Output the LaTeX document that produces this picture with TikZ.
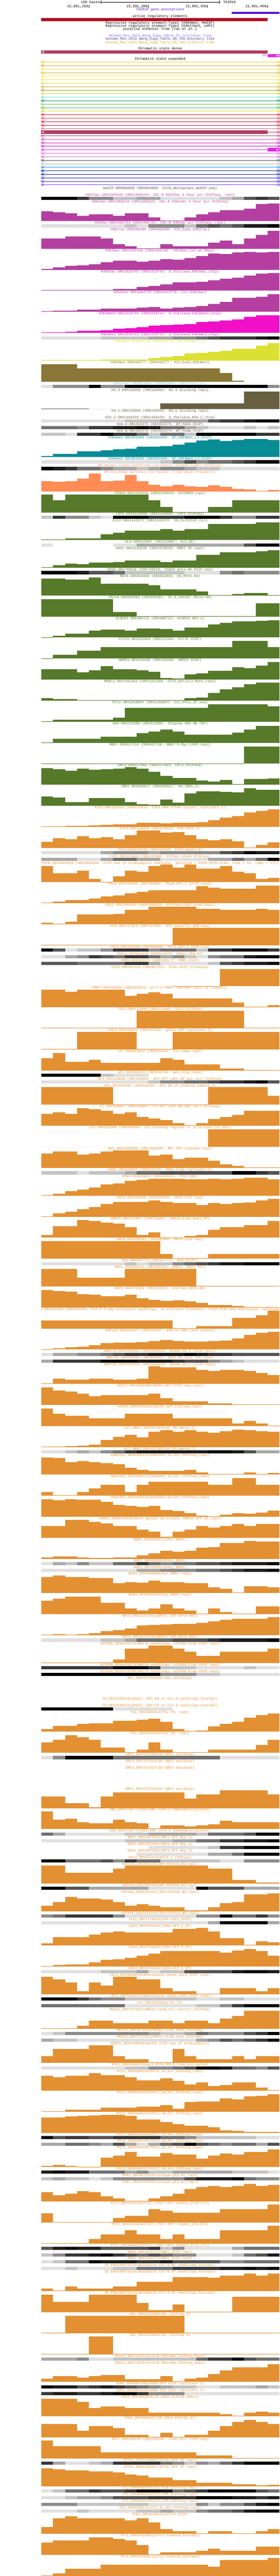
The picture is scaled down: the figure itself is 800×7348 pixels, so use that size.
\documentclass[tikz,border=0pt]{standalone}
\usepackage{fontspec}
\newfontfamily\ucscfont{Liberation Mono}

\definecolor{acetyl}{HTML}{B43FA0}
\definecolor{kmagenta}{HTML}{F010C8}
\definecolor{kfourtwo}{HTML}{DCE032}
\definecolor{kfourone}{HTML}{8A7636}
\definecolor{kpale}{HTML}{80C8C8}
\definecolor{variant}{HTML}{686040}
\definecolor{knine}{HTML}{088C96}
\definecolor{dnase}{HTML}{FF8C55}
\definecolor{chromprot}{HTML}{567A2A}
\definecolor{tfactor}{HTML}{E39032}
\definecolor{medip}{HTML}{3C5A3C}
\definecolor{tairblue}{HTML}{5810DC}
\definecolor{actred}{HTML}{B40020}
\definecolor{insul}{HTML}{7B68EE}
\definecolor{tadbound}{HTML}{483D8B}
\definecolor{tadint}{HTML}{DAA520}
\definecolor{statedense}{HTML}{B43C5A}
\definecolor{statemag}{HTML}{E628E6}
\definecolor{shade1}{HTML}{E0E0E0}
\definecolor{shade2}{HTML}{C4C4C4}
\definecolor{shade3}{HTML}{A8A8A8}
\definecolor{shade4}{HTML}{8C8C8C}
\definecolor{shade5}{HTML}{707070}
\definecolor{shade6}{HTML}{545454}
\definecolor{shade7}{HTML}{383838}
\definecolor{shade8}{HTML}{1C1C1C}
\definecolor{shade9}{HTML}{000000}

\tikzset{
  trklbl/.style={font=\ucscfont\fontsize{10}{10}\selectfont, inner sep=0pt, anchor=base},
  tick/.style={line width=0.8pt},
}

% running track position
\newcounter{trk}
\def\trky{556}
\newcommand\trknext[1]{\pgfmathsetmacro\trktmp{\trky+#1}\xdef\trky{\trktmp}\stepcounter{trk}}
\newcommand\trklabel[2]{\node[trklbl, text=#1] (trk\thetrk) at (458,{\trky+3.5}) {#2};}
\newcommand\bartrk[3]{\trklabel{#1}{#2}%
  \foreach \h [count=\i from 0] in {#3}
    {\fill[#1] ({118+34.1*\i},{\trky+55.5}) rectangle ++(34.1,-\h);}%
  \trknext{60}}
\newcommand\graytrk[3]{\trklabel{#1}{#2}%
  \foreach \g [count=\i from 0] in {#3}
    {\ifnum\g>0\relax \fill[shade\g] ({118+34.1*\i},{\trky+5}) rectangle ++(34.1,9);\fi}%
  \trknext{19}}
\newcommand\nultrk[3]{\trklabel{#1}{#2}\trknext{#3}}

\begin{document}
\catcode`\_=12
\begin{tikzpicture}[x=1pt, y=-1pt]
\useasboundingbox (0,0) rectangle (800,7348);
\fill[white] (0,0) rectangle (800,7348);

% ruler and positions
\node[trklbl, anchor=base east] (scalelbl) at (286,9.5) {100 bases};
\coordinate (rulerL) at (288,6);
\coordinate (rulerR) at (628,6);
\draw[tick] (rulerL) -- (rulerR);
\draw[tick] (288,1) -- (288,11) (628,1) -- (628,11);
\node[trklbl, anchor=base west] (asm) at (638,9.5) {TAIR10};
\node[trklbl, anchor=base east] (pos1) at (252,21.5) {15,891,250};
\node[trklbl, anchor=base east] (pos2) at (422,21.5) {15,891,300};
\node[trklbl, anchor=base east] (pos3) at (591,21.5) {15,891,350};
\node[trklbl, anchor=base east] (pos4) at (762,21.5) {15,891,400};
\draw[tick] (254,14) -- (254,22) (424,14) -- (424,22) (593,14) -- (593,22) (764,14) -- (764,22);

\node[trklbl, text=tairblue] (genes) at (458,30.5) {TAIR10 gene annotations};
\fill[tairblue] (663,34) rectangle (800,39);
\node[trklbl] (regel) at (458,49.5) {active regulatory elements};
\fill[actred] (118,51) rectangle (765,60);
\node[trklbl] (rep1) at (458,68.5) {Repressive regulatory element-Type1 (H3K9me2, MeDIP)};
\node[trklbl] (rep2) at (458,77.5) {Repressive regulatory element-Type2 (H3K27me3, LHP1)};
\node[trklbl] (enh) at (458,86.5) {putative enhancer from (Yan et al.)};
\node[trklbl, text=insul] (tabS7) at (458,105.5) {Genome_Res_2015_Wang_Supp_Table_S7_insulator-like};
\node[trklbl, text=tadbound] (tabS8) at (458,114.5) {Genome_Res_2015_Wang_Supp_Table_S8_TAD_boundary_like};
\node[trklbl, text=tadint] (tabS9) at (458,123.5) {Genome_Res_2015_Wang_Supp_Table_S9_TAD_interior_like};

% chromatin state dense
\node[trklbl] (csdense) at (458,142.5) {Chromatin state dense};
\fill[statedense] (118,144) rectangle (765,153);
\fill[white] (120,148.5) -- (123,146) -- (123,151) -- cycle (123,148.5) -- (126,146) -- (126,151) -- cycle;
\fill[statemag] (765,154) rectangle (800,163);
\fill[white] (797,158.5) -- (794,156) -- (794,161) -- cycle (794,158.5) -- (791,156) -- (791,161) -- cycle;
\node[trklbl, anchor=base east, text=statemag!80!black] (state26) at (763,161.5) {26};

% chromatin state expanded
\node[trklbl] (csexp) at (458,171.5) {Chromatin state expanded};
\foreach \c [count=\k from 0] in {E6D72A,E8A02A,F0E040,D2B43C,F0F03C,F0E650,E0DC28,D0B030,B49614,C8DC32,
  64E6C8,14966E,78C850,46B450,DCDC1E,E61E32,E6464B,DC1428,C81432,E6648C,
  B43C5A,B4468C,D246B4,D214B4,C814D2,E628E6,E664F0,C864D2,505050,B4B4B4,
  1E96E6,102A8C,1020B4,2032D2,4628E6,8246F0}{
  \edef\setrow{\noexpand\definecolor{rowcol}{HTML}{\c}}\setrow
  \pgfmathsetmacro\ry{177+10*\k}
  \draw[rowcol, line width=0.8pt] (118,\ry) -- (800,\ry);
  \draw[rowcol, line width=0.5pt]
    (118,{\ry-4}) -- (118,{\ry+4}) (122.5,{\ry-4}) -- (118,\ry) -- (122.5,{\ry+4})
    (122.5,{\ry-4}) -- (122.5,{\ry+4}) (127,{\ry-4}) -- (122.5,\ry) -- (127,{\ry+4})
    (800,{\ry-4}) -- (800,{\ry+4}) (795.5,{\ry-4}) -- (800,\ry) -- (795.5,{\ry+4})
    (795.5,{\ry-4}) -- (795.5,{\ry+4}) (791,{\ry-4}) -- (795.5,\ry) -- (791,{\ry+4});
}
\fill[statedense] (118,372.5) rectangle (765,381.5);
\fill[white] (120,377) -- (123,374.5) -- (123,379.5) -- cycle (123,377) -- (126,374.5) -- (126,379.5) -- cycle;
\fill[statemag] (765,422.5) rectangle (800,431.5);
\fill[white] (797,427) -- (794,424.5) -- (794,429.5) -- cycle (794,427) -- (791,424.5) -- (791,429.5) -- cycle;

\node[trklbl, text=medip] (medip) at (458,540.5) {meDIP-SRX004968 (SRX004968: Col0_wholeplant_meDIP-seq)};

\begin{scope}
\clip (118,545) rectangle (800,7348);
\graytrk{acetyl}{H3K23ac-SRX1469144 (SRX1469144: COL-0 H3K23ac 4 hour air ChIPseq, rep2)}{9,9,9,7,4,4,2,2,3,3,1,1,1,1,1,2,3,6,7,6}
\bartrk{acetyl}{H3K14ac-SRX1469119 (SRX1469119: COL-0 H3K14ac 4 hour air ChIPseq)}{28.7,24.7,21.7,14.7,18.7,18.7,14.7,21.7,21.7,10.7,1.7,1.7,10.7,18.7,24.7,30.7,30.7,34.7,48.7,50.7}
\graytrk{acetyl}{H3K9ac-SRX1466723 (SRX1466723: COL-0 H3K9ac air ChIPseq, rep1)}{1,1,1,1,1,1,1,2,1,4,4,4,2,5,6,5,6,8,8,9}
\bartrk{acetyl}{H3K27ac-SRX648280 (SRX648280: Ath_buds_H3K27ac)}{28.7,28.7,34.7,34.7,34.7,28.7,12.7,6.7,1.7,1.7,12.7,6.7,6.7,6.7,17.7,23.7,12.7,28.7,39.7,50.7}
\bartrk{acetyl}{H3K36ac-SRX1426149 (SRX1426149: H3K36ac_Col_wt_Rep1)}{1.7,6.7,10.7,12.7,15.7,21.7,25.7,25.7,22.7,25.7,29.7,28.7,32.7,39.7,46.7,45.7,48.7,50.7,49.7,50.7}
\bartrk{acetyl}{H3K56ac-SRX1518745 (SRX1518745: A_thaliana_H3K56ac_chip)}{2.7,1.7,2.7,2.7,2.7,2.7,4.7,5.7,10.7,13.7,17.7,23.7,24.7,25.7,29.7,34.7,37.7,43.7,48.7,50.7}
\bartrk{acetyl}{H4K16ac-SRX1044778 (SRX1044778: Col-H4K16ac)}{1.7,3.7,3.7,6.7,6.7,8.7,8.7,8.7,11.7,13.7,8.7,11.7,13.7,16.7,22.7,27.7,40.7,40.7,42.7,50.7}
\bartrk{kmagenta}{H3K36me3-SRX1518744 (SRX1518744: A_thaliana_H3K36me3_chip)}{2,2,3,6.7,6.7,7.7,11.7,13.7,16.7,20.7,21.7,23.7,25.7,30.7,32.7,35.7,38.7,45.7,50.7,50.7}
\graytrk{acetyl}{H3K4me3-SRX1518741 (SRX1518741: A_thaliana_H3K4me3_chip)}{1,1,1,1,1,2,2,2,2,3,3,4,4,5,6,7,7,7,8,9}
\bartrk{kfourtwo}{H3K4me2-DRX066756 (DRX066756: WT_H3K4me2_1)}{1,1,1,1,1,2.5,2.5,2.5,2.5,6.6,10,12.4,20.7,22.4,25,28,33,34,42,50}
\bartrk{kfourone}{H3K4me1-SRX648277 (SRX648277: Ath_buds_H3K4me1)}{50,50,50,38,38,38,38,38,38,38,38,38,38,38,38,25,2,0,0,0}
\graytrk{kpale}{H3K27me3-SRX853860 (SRX853860: H3K27me3_Col)}{1,4,4,4,9,4,4,9,9,9,9,9,9,9,9,9,9,9,9,4}
\bartrk{variant}{H3.3-SRX130301 (SRX130301: H3.3 dividing rep1)}{1.5,1.5,1.5,1.5,0,0,0,0,0,0,17.5,17.5,17.5,17.5,17.5,17.5,17.5,50.5,50.5,50.5}
\nultrk{variant}{H3.1-SRX130303 (SRX130303: H3.1 dividing rep1)}{19}
\graytrk{variant}{H2A.Z-SRX1436239 (SRX1436239: A_thaliana_H2A.Z_chip)}{1,1,1,1,1,1,1,2,2,2,3,3,3,3,6,7,7,8,9,9}
\graytrk{variant}{H2A.X-SRX352375 (SRX352375: WT_H2AX_ChIP)}{5,5,5,4,7,7,8,8,9,8,5,5,3,2,1,1,1,2,1,2}
\graytrk{variant}{H2A.W-SRX352374 (SRX352374: WT_H2AW_ChIP)}{2,2,1,7,7,9,7,7,5,2,5,5,2,9,9,9,9,9,7,7}
\bartrk{knine}{H3K9me1-SRX361945 (SRX361945: WT_H3K9me1_LJ_ChIP)}{2.5,8.3,9,16,16,19,22,24,30,30,31.5,35,41.5,46.5,50.6,46,48,51,51,48}
\graytrk{knine}{H3K9me2-SRX361946 (SRX361946: WT_H3K9me2_LJ_ChIP)}{1,1,1,1,1,1,1,1,1,1,2,4,6,4,5,5,6,7,9,9}
\graytrk{dnase}{DH-normal_light_condition (in house: normal light conditon)}{9,8,7,5,5,4,3,3,2,3,4,4,3,2,2,1,1,1,1,1}
\bartrk{dnase}{DH-extended_darkness (in house: 3-day dark treatment)}{29,27.4,29,35.7,50.6,29,30.7,46.4,29,18,14,18,14,12.4,16.6,13,6.6,5.8,1.7,3.3}
\bartrk{chromprot}{CENH3-SRX2250913 (SRX2250913: AtCENH3_rep1)}{50,34,50,50,50,50,50,50,50,34,15.8,1,1,1,15.8,15.8,34,34,34,34}
\graytrk{chromprot}{LHP1-SRX1519404 (SRX1519404: LHP1 ChIPseq)}{2,7,4,4,2,1,9,9,9,7,7,7,9,9,9,7,4,4,7,7}
\bartrk{chromprot}{Pol2-SRX1142672 (SRX1142672: 30_Pol2ChIP_Col)}{1.7,1.7,5,5,5,16.6,21,26.5,26.5,26.5,30.7,26.5,31.5,31.5,46.4,46.4,46.4,46.4,50.6,50.6}
\graytrk{chromprot}{AL5-SRX515067 (SRX515067: AL5_OE)}{1,0,0,0,0,0,1,1,3,3,3,3,3,3,3,3,3,6,9,9}
\bartrk{chromprot}{HDP2-SRX2310526 (SRX2310526: HDP2 IP rep2)}{1.7,7.5,12.4,10,14,14,16.6,20,20,20,16.6,20,20,37,37,44,44,44,47,50.6}
\graytrk{chromprot}{SDG8-SRX749018 (SRX749018: hSDG8 anti-HA ChIP-seq)}{9,9,9,8,6,6,5,2,2,2,2,2,1,1,1,4,5,4,4,4}
\bartrk{chromprot}{REF6-SRX853858 (SRX853858: HA_REF6-HA)}{48,48,45,45,50.5,33.7,33.7,33.7,33.7,29,17,17,17,10.8,1.7,1.7,4,6.6,6.6,1.7}
\bartrk{chromprot}{JMJ14-SRX669383 (SRX669383: 2C_3_140207 JMJ14-HA)}{50,50,50,50,50,50,12.5,12.5,1.5,1.5,1.5,1.5,1.5,1.5,1.5,1.5,1.5,1.5,38,38}
\bartrk{chromprot}{AtDEK3-SRX488722 (SRX488722: AtDEK3 OE3-1)}{1.2,5.7,10.7,10.7,19,22.4,22.4,19.5,25,25,24,20,28,28,37,41.5,45.6,46.4,47,49.8}
\bartrk{chromprot}{PolIV-SRX252954 (SRX252954: PolIV ChIP)}{0.8,10.8,10.8,22.4,22.4,33,33,33,33,33,33,33,33,33,33,33,50,50,50,33}
\bartrk{chromprot}{NRPE1-SRX159106 (SRX159106: NRPE1 ChIP)}{29,29,29,21,26,38,29,29,26.7,22.5,5,3.3,15,17.4,25.7,25.7,35,32.3,40,50.6}
\bartrk{chromprot}{MORC1-SRX1161363 (SRX1161358: ChIP_morc1/2_Mock_rep3)}{7.5,4,4,2,2,2,2,2,2,2,2,2,7,8,21.6,31.5,38,46.4,50.6,50.6}
\bartrk{chromprot}{HYL1-SRX1268024 (SRX1268024: Col_HYL1_IP_seq)}{1.5,5.3,5.3,5.3,5.3,5.3,11.5,39.5,39.5,39.5,39.5,39.5,39.5,39.5,49.8,49.8,49.8,49.8,49.8,44}
\bartrk{chromprot}{AN3-SRX212080 (SRX212080: Chipseq AN3 HB TAP)}{1.2,11,11,11,11,17.4,17.4,17.4,28,31,38,31,23,23,23,23,29,38,48,48}
\bartrk{chromprot}{MBD7-SRX621716 (SRX621716: MBD7-5-Myc-ChIP-rep1)}{0.8,0.8,0.8,0.8,0.8,0.8,0.8,0.8,0.8,0.8,0.8,0.8,0.8,0.8,0.8,0.8,0.8,49,49,49}
\bartrk{chromprot}{CMT3-SRX157663 (SRX157663: CMT3_ChIPseq)}{47,45,40,46,43,44,46,50,46,37,25,19,19,11.6,9,14,1.7,15.8,15.8,17.4}
\bartrk{chromprot}{IBM1-DRX066817 (DRX066817: HA-IBM1_2)}{27,23,10.5,10.5,22.5,22.5,22.5,10.5,5,3,18,8.4,35,41,41,40,38,50,46,46}
\bartrk{tfactor}{E2Fa-SRX333416 (SRX333416: E2Fa-HBH TChAP output, replicate 2)}{1.3,1.3,3.2,3.2,4.5,6.3,7.7,7.7,11.6,11.6,9.7,12,12,13,19,25.8,31,40.6,45.7,49.6}
\bartrk{tfactor}{PIF3-SRX159028 (SRX159028: P3M-ChIP-3)}{17.4,27,24.5,33.5,27,30,24.5,36,50,50,43.8,45,36,24.5,21,24.5,18,1.3,9,15.5}
\graytrk{tfactor}{PIF4-SRX214150 (SRX214150: PIF4-peaks-3)}{1,1,1,1,1,3,4,4,4,3,4,4,4,4,4,6,7,9,8,8}
\graytrk{tfactor}{PIF5-SRX115869 (SRX115869: PIF5ox shade ChIPseq)}{3,3,3,1,1,3,5,5,3,3,1,1,1,1,3,3,5,3,5,9}
\bartrk{tfactor}{PHYB-SRX2083648 (SRX2083648: ChIP-Seq of Arabidopsis thaliana: genotype = PHYB:PHYB-FLAG, time = 10, temp = 17C)}{46.4,25,25,32.9,9,1.3,17.4,32.9,30,46.4,50,41,50,38.6,38.6,46.4,30,25,9,12.9}
\bartrk{tfactor}{PhyA-SRX320094 (SRX320094: PhyA-GFP_1 [ChIP-seq])}{1.3,5,9,9,14,18.7,23,27.7,32,37.4,37.4,37.4,37.4,49,45,42,42,42,50,50}
\bartrk{tfactor}{CRY2-SRX1005826 (SRX1005826: ChIPSeq-CRY2_FLAG_Rep1)}{4.5,1.3,7.7,27.7,27.7,27.7,30,40.6,40.6,49.6,49.6,49.6,49.6,44.4,44.4,40.6,40.6,40.6,44.4,40.6}
\bartrk{tfactor}{HY5-SRX727353 (SRX727353: HY5 specific gDB-seq)}{1,1,1,1,1,1,1,1,1,1,1,50,50,50,50,50,50,50,50,50}
\graytrk{tfactor}{FHY1-SRX555090 (SRX555090: FHY1-GFP_2_ChIP-seq)}{9,6,1,2,2,4,7,7,7,4,5,5,5,2,7,7,9,9,9,7}
\graytrk{tfactor}{FRS12-ERX611626 (ERX611626: FRS12_HBH_N2)}{1,1,3,4,7,6,5,7,7,5,3,4,2,1,4,5,5,8,9,9}
\graytrk{tfactor}{PRR5-SRX128177 (SRX128177: PRR5-ChIP)}{6,6,6,5,5,5,5,7,7,3,1,1,1,1,2,6,7,8,8,9}
\bartrk{tfactor}{CCA1-SRX997425 (SRX997425: CCA1-ChIP_Illumina)}{0,0,0,0,0,0,0,0,0,0,0,1.3,1.3,1.3,1.3,49,49,49,49,49}
\bartrk{tfactor}{PRR7-SRX328353 (SRX328353: prr7-3 PRR7::HA-PRR7 \#151 IP (ExpII))}{50,50,44.4,50,50,50,50,32.8,38,43.8,38,25.8,25.8,25.8,25.8,25.8,13.5,1.3,1.3,7}
\bartrk{tfactor}{TOC1-SRX121040 (SRX121040: TOC1_ChIPSeq)}{1.3,1.3,1.3,1.3,1.3,1.3,1.3,1.3,49.6,49.6,49.6,49.6,49.6,49.6,49.6,49.6,49.6,1.3,1.3,1.3}
\bartrk{tfactor}{SOC1-SRX262132 (SRX262132: gSOC1-GFP replicate 3)}{1.3,1.3,1.3,49.6,49.6,49.6,49.6,49.6,1.3,1.3,1.3,49.6,49.6,49.6,49.6,49.6,49.6,49.6,49.6,49.6}
\bartrk{tfactor}{LFY-SRX029442 (SRX029442: lfy-samp-rep2)}{34.8,49.6,24.5,24.5,31,21.9,21.9,21.9,21.9,21.9,34.8,31,18,18,18,5.8,5.8,1.3,1.3,1.3}
\graytrk{tfactor}{AP2-SRX019319 (SRX019319: ap2_chip_rep2)}{9,9,9,9,9,2,1,1,1,0,0,0,0,0,0,0,0,0,0,0}
\graytrk{tfactor}{AP3-SRX150808 (SRX150808: AP3-GFP (AP1-GR ap1 cal) ChIPseq)}{1,1,1,1,1,1,1,1,1,2,4,4,5,5,6,7,7,8,9,6}
\bartrk{tfactor}{AP1-SRX018392 (SRX018392: AP1-GR_2h_induced_sample_1)}{50,50,50,50,50,50,1,1,1,1,1,1,1,1,50,50,50,50,50,26.4}
\bartrk{tfactor}{PI-SRX150807 (SRX150807: PI-GFP (AP1-GR ap1 cal) ChIPseq)}{34.8,38,34.8,50,47.7,43.8,34.8,38,25,20.6,16,7.7,1.3,7.7,19.3,25.8,32,43.8,43.8,43.8}
\bartrk{tfactor}{FLC-SRX039006 (SRX039006: FLC binding regions in wild type Col FRI)}{0,0,0,0,0,0,0,0,0,0,0,0,0,0,49.6,49.6,49.6,49.6,49.6,49.6}
\bartrk{tfactor}{RPL-SRX1603698 (SRX1603698: RPL-GFP_chipseq_rep1)}{41.6,46.3,46.3,38.4,41.6,46.3,50,50,50,35.3,38.4,25.6,30,30,21,9.6,5.3,2,2,2}
\graytrk{tfactor}{KAN1-SRX310193 (SRX310193: KAN1-FLAG replicate 1)}{2,2,2,1,2,2,2,3,5,5,6,6,6,6,6,6,9,9,7,6}
\bartrk{tfactor}{PPD2-ERX620625 (ERX620625: PPD2_HBH)}{1.3,5,13.4,16.6,23.6,32.5,35,42,44.6,47.8,47.8,47.8,46.6,47,48.5,46.6,48.5,50.4,50.4,47}
\bartrk{tfactor}{SPCH-SRX539638 (SRX539638: SPCH ChIP-Seq)}{1.3,9.6,14,21,28,36.4,42,42,42,46.6,42,39.5,38.3,33,38.3,36.4,38.3,40,46.6,50.4}
\bartrk{tfactor}{ARR10-SRX732967 (SRX732967: ARR10_Exp1_Rep1_IP)}{8.3,32.5,32.5,50.4,47.2,43.4,40.2,29.3,8.3,15.3,1.3,1.3,4.5,8.3,22.3,29.3,29.3,36.4,36.4,47.2}
\bartrk{tfactor}{ARF6-SRX368984 (SRX368984: ARF6 ChIP-Seq)}{50.4,50.4,50.4,50.4,50.4,50.4,50.4,50.4,50.4,50.4,13.4,1.3,1.3,1.3,13.4,13.4,13.4,13.4,13.4,13.4}
\graytrk{tfactor}{RGA-SRX647775 (SRX647775: RGA_ChIP2)}{1,1,1,1,1,1,1,2,1,2,2,4,5,6,7,8,8,9,9,9}
\bartrk{tfactor}{HBI1-SRX388754 (SRX388754: pHBI1::HBI1-YFP)}{49.7,49.7,49.7,25.5,25.5,25.5,25.5,49.7,49.7,49.7,49.7,49.7,49.7,1.3,1.3,1.3,1.3,1.3,1.3,1.3}
\bartrk{tfactor}{ABI5-SRX670505 (SRX670505: ChIPSeq-ABI5_Ab)}{49.7,46.6,44.6,37.6,36.4,31.9,32.5,36.4,25.5,22.3,18.5,20.4,17.9,12.8,6.4,6.4,3.8,1.3,1.3,1.3}
\bartrk{tfactor}{EIN3-SRX215430 (SRX215430: Col-0 3-day etiolated seedlings, no ethylene treatment, EIN3 ChIP-Seq biological replicate 1)}{22.3,22.3,22.3,22.3,22.3,22.3,22.3,22.3,22.3,22.3,22.3,1.3,1.3,6.4,6.4,6.4,30,30,37,50.4}
\bartrk{tfactor}{ERF115-SRX320167 (SRX320167: ERF115-HBH ChIP output)}{1.3,3.2,6.4,8.3,12,19,20.4,20.4,21,24.9,27.4,24.2,22.3,22.3,24.2,26,31.9,42,47.8,50.4}
\graytrk{tfactor}{WRKY18-SRX2039032 (SRX2039032: W18HA_0h_2 (ChIP-Seq))}{1,3,3,4,4,5,6,7,7,8,8,8,9,8,7,7,6,6,6,6}
\graytrk{tfactor}{WRKY33-SRX890383 (SRX890383: WK33-HA mock 14h rep1)}{3,7,7,7,7,9,9,9,8,8,8,7,6,6,4,3,2,1,1,1}
\bartrk{tfactor}{WRKY40-SRX2039026 (SRX2039026: W40HA_0h_1 (ChIP-Seq))}{1.3,15.3,11.5,11.5,15.3,15.3,11.5,11.5,15.3,50.4,46.6,46.6,46.6,40,36.4,40,40,36.4,31.3,25.5}
\bartrk{tfactor}{ADCP1-SRX4503490(ADCP1-GFP ChIP-seq_rep1)}{49.7,40.8,37.6,31.9,25.5,27.4,27.4,27.4,27.4,31.9,18.5,9.6,9.6,9.6,3.8,3.8,1.3,1.3,1.3,1.3}
\bartrk{tfactor}{ADCP1_SRX4503492(ADCP1-GFP_ChIPseq_rep2)}{49.7,35.7,28.7,28.7,21.7,21.7,21.7,35.7,35.7,35.7,35.7,21.7,21.7,21.7,21.7,21.7,7.7,14.7,7.7,1.3}
\bartrk{tfactor}{all_WRKY_SRX3557820(wt_0h_aWrky_1)}{0.8,0.8,2.6,4.5,6.4,20.4,29.3,34.4,28,44,47.8,44,47.8,44,40.8,45.3,49.7,47.8,45.3,43.4}
\graytrk{tfactor}{all_WRKY_SRX3557828(wt_0h_aWrky_2)}{1,1,2,3,2,4,5,7,8,8,8,8,8,8,9,9,8,6,3,3}
\bartrk{tfactor}{ANAC055_SRX6460113(ANAC055_JA_2hr_ChIPseq_rep1)}{49.7,47.2,36.4,38.9,36.4,33.2,30.6,19.8,13.4,10.8,10.8,10.8,13.4,7,1.3,2.6,2.6,6.4,2.6,4.5}
\bartrk{tfactor}{ANAC055_SRX6460114(ANAC055_JA_2hr_ChIPseq_rep2)}{10.8,1.3,1.3,10.8,20.4,30.6,30.6,10.8,30.6,40.2,40.2,40.2,40.2,40.2,30.6,30.6,49.7,49.7,30.6,30.6}
\bartrk{tfactor}{ANAC055_SRX6460115(ANAC055_JA_2hr_ChIPseq_rep3)}{50.6,46.6,50.6,48.6,48.6,43.4,33.5,30.9,27.6,31.5,19.7,16.4,10.5,3.3,1.3,6.6,10.5,9.2,12.5,18.4}
\bartrk{tfactor}{ARR12_SRX6490939(Root apical meristems, ARR12-GFP_IP_rep2)}{33.8,33.8,50.9,50.9,45.6,40.4,33.8,33.8,22.7,17.4,2.3,17.4,22.7,33.8,29.2,33.8,39.7,33.8,39.7,39.7}
\bartrk{tfactor}{BDR1_SRX3928572(Myc_BDR1)}{4.4,6.4,6.4,4.4,2.4,1.8,4.4,4.4,10.3,16.2,22.8,20.8,23.4,31.3,34,45.8,45.8,51,49.7,49.7}
\graytrk{tfactor}{BDR1_SRX5900593(Myc_BDR1)}{1,3,2,4,2,2,5,5,7,5,4,5,5,6,6,7,8,8,8,9}
\graytrk{tfactor}{BDR2_SRX3928574(Myc_BDR2)}{1,1,1,1,1,1,1,1,3,3,4,4,4,5,5,6,7,8,8,9}
\bartrk{tfactor}{BDR3_SRX5900594(Myc_BDR3 rep1)}{46.6,50.6,46.6,46.6,42.7,42.7,28.9,31.5,29.6,35.5,31.5,31.5,28.9,28.9,16.4,12.5,2,19.7,19.7,16.4}
\bartrk{tfactor}{BDR3_SRX5900595(Myc_BDR3 rep2)}{38.4,45,50.9,50.9,50.9,32.5,32.5,16,10.8,16,28.5,16,10.8,1.6,16,6.8,1.6,1.6,22.6,22.6}
\bartrk{tfactor}{BPC6_ERX2223705(pBPC6::GFP:BPC6-BR1)}{1.8,3.7,1.8,3.7,5.7,12.3,14.9,18.8,27.4,30,31.3,32.6,32.6,35.2,39.8,43.7,47,47,47,51}
\graytrk{tfactor}{BPC6_ERX2223706(pBPC6::GFP:BPC6-BR1)}{1,1,1,1,1,2,2,3,5,5,5,6,6,6,7,8,8,8,8,9}
\bartrk{tfactor}{bZIP68_SRX6410178(Whole seedlings, bZIP68-FLAG.CHIP.rep1)}{1.3,1.3,1.3,1.3,1.3,1.3,10.5,40.7,40.7,50,50,40.7,31.5,20.4,20.4,31.5,31.5,31.5,31.5,40.7}
\graytrk{tfactor}{bZIP68_SRX6410179(Whole seedlings, bZIP68-FLAG.CHIP.rep2)}{7,7,7,7,7,7,9,9,9,7,2,2,2,1,1,1,1,2,1,1}
\graytrk{tfactor}{bZIP68_SRX6410180(Whole seedlings, bZIP68-FLAG.CHIP.rep3)}{9,9,9,9,9,9,9,9,9,9,4,4,4,2,2,1,1,1,1,1}
\nultrk{tfactor}{EEL_SRX7873339(WT:EEL antibody)}{60}
\nultrk{tfactor}{FD_ERX2338310(pSUC2::GFP:FD in Col-0 seedlings biorep1)}{19}
\graytrk{tfactor}{FD_ERX2338311(pSUC2::GFP:FD in Col-0 seedlings biorep2)}{9,9,9,9,9,9,1,1,1,1,1,0,0,0,0,0,0,0,0,0}
\bartrk{tfactor}{FUL_SRX3505414(FUL IM, rep1)}{7.2,17,17,21.7,24.3,24.3,30.9,30.9,34.2,37.4,27.6,7.2,2,3.9,14.5,21.7,27.6,40,47.3,51}
\bartrk{tfactor}{FUL_SRX3505415(FUL IM, rep2)}{29.2,36.4,50.2,43.6,36.4,15.3,15.3,1.5,8.1,29.2,8.1,1.5,1.5,1.5,8.1,8.1,8.1,8.1,22.6,36.4}
\graytrk{tfactor}{GBF1_SRX7873305(WT:GBF1 antibody)}{1,4,9,9,9,9,5,5,5,5,5,5,5,5,5,1,1,1,1,1}
\nultrk{tfactor}{GBF2_SRX7873316(WT:GBF2 antibody)}{19}
\nultrk{tfactor}{GBF3_SRX7873327(WT:GBF3 antibody)}{60}
\bartrk{tfactor}{GBF4_SRX7873338(WT:GBF4 antibody)}{32.4,32.4,13.3,13.3,1.5,32.4,44.9,44.9,44.9,44.9,44.9,44.9,27.1,39,39,50.8,50.8,50.8,50.8,39}
\bartrk{tfactor}{GNC_SRX3739773(35S:GNC line 2 immunoprecipitate)}{50.3,26.7,30,19.4,16.8,16.8,26.7,19.4,16.8,1.7,10.2,10.2,7.6,10.2,13.5,23.4,19.4,19.4,19.4,19.4}
\graytrk{tfactor}{GNC_SRX3739775(35S:GNC line 1 immunoprecipitate)}{5,3,1,1,1,1,1,2,2,3,3,3,3,2,5,5,5,6,9,9}
\graytrk{tfactor}{GRF1_SRX5507863(GRF1-GFP Rep 3)}{1,1,1,1,1,1,1,2,2,2,2,3,3,5,5,7,7,8,8,9}
\graytrk{tfactor}{GRF3_SRX5507865(GRF3-GFP Rep 2)}{0,0,0,0,0,0,0,0,0,1,1,1,1,1,2,7,7,9,9,9}
\graytrk{tfactor}{GRF3_SRX5507866(GRF3-GFP Rep 3)}{0,0,0,0,0,0,0,0,1,1,1,1,1,1,3,3,5,9,9,9}
\graytrk{tfactor}{HAT3_SRX875470(HAT3-1 ChIPseq)}{9,9,5,5,5,6,4,7,5,5,2,2,2,2,2,1,1,4,4,4}
\bartrk{tfactor}{HSFA1b_SRX2024335(NP:HSFA1b_NS_rep1)}{50.8,50.8,30.5,30.5,30.5,30.5,41.6,50.8,50.8,50.8,50.8,50.8,50.8,50.8,41.6,41.6,10.7,10.7,2.2,2.2}
\graytrk{tfactor}{HSFA1b_SRX2024336(NP:HSFA1b_NS_rep2)}{9,9,6,6,3,3,3,3,3,1,1,1,1,9,6,6,6,3,3,3}
\bartrk{tfactor}{HSFA1b_SRX2024343(35S:HSFA1b_NS_rep1)}{15.6,25.4,40.5,36.6,36.6,33.3,25.4,15.6,19.5,15.6,11.6,11.6,1.8,1.8,11.6,22.8,25.4,47.8,47.8,51}
\graytrk{tfactor}{HSFA1b_SRX2024344(35S:HSFA1b_NS_rep2)}{4,5,7,7,7,7,4,1,1,1,1,1,1,4,4,9,5,5,7,4}
\graytrk{tfactor}{ICE1_SRX7719242(GFP-ICE1_ChIP)}{1,1,1,1,1,1,1,1,1,1,1,1,1,1,3,9,9,9,9,3}
\bartrk{tfactor}{IDD4_SRX4705001(IDD4-GFP_1_IP)}{5.8,24.2,24.2,24.2,31.5,36.7,40.7,36.7,36.7,36.7,36.7,47.2,47.2,50.5,40.7,21.6,21.6,1.3,12.4,9.8}
\bartrk{tfactor}{IDD4_SRX4705002(IDD4-GFP_3_IP)}{1.4,4.7,6.7,6.7,12.6,19.8,20.5,25.8,30.4,36.3,44.8,44.8,43.5,43.5,43.5,39.5,45.5,50.7,43.5,31.7}
\graytrk{tfactor}{IDD4_SRX4705003(IDD4-GFP_4_IP)}{1,1,1,1,1,2,2,2,3,1,2,2,6,6,6,6,8,9,9,8}
\bartrk{tfactor}{LEC1_SRX3638219(developing seeds_LEC1_ChIP rep1)}{49.8,41.9,34,9,34,24.8,49.8,49.8,41.9,41.9,16.9,9,9,1.2,1.2,16.9,16.9,16.9,9,16.9}
\graytrk{tfactor}{LEC1_SRX3638221(developing seeds_LEC1_ChIP rep2)}{9,9,9,7,5,4,4,2,2,2,2,2,2,1,1,2,2,1,1,1}
\graytrk{tfactor}{LHY_SRX3182010(LHY_IP)}{5,5,5,5,5,5,5,1,1,1,1,1,1,2,2,4,7,9,9,9}
\bartrk{tfactor}{MED12_SRX7573312(MED12-FLAG_col_control_ChIPseq)}{1.3,1.3,1.3,7.9,22.3,22.3,15.1,15.1,15.1,22.3,22.3,15.1,22.3,22.3,15.1,28.9,36.1,50,50,50}
\graytrk{tfactor}{MED12_SRX7573320(MED12-FLAG_rep1_ChIPseq)}{1,2,4,4,4,4,4,4,4,3,2,2,3,5,4,4,4,6,7,9}
\graytrk{tfactor}{MED12_SRX7573322(MED12-FLAG_rep2_ChIPseq)}{3,2,2,1,1,1,1,1,1,1,1,1,1,3,4,6,5,6,7,9}
\bartrk{tfactor}{MED25_SRX7445540(med25 ChIP-seq of arabidopsis)}{19.8,40.3,40.3,40.3,50.2,50.2,19.8,10.6,10.6,1.4,1.4,40.3,19.8,10.6,10.6,10.6,19.8,10.6,19.8,19.8}
\graytrk{tfactor}{MYC2_SRX5982476(myc2_MYC2:MYC2_FLAG_untreated)}{1,1,1,1,1,1,1,2,2,4,4,5,6,9,9,8,5,5,4,6}
\bartrk{tfactor}{MYC2_SRX6460101(MYC2_JA_2hr_ChIPseq_rep1)}{42.4,38.4,42.4,42.4,50.3,44.3,44.3,38.4,29.9,29.9,35.1,27.3,18,24,12.8,15.4,24,24,8.9,1.6}
\bartrk{tfactor}{MYC2_SRX6460102(MYC2_JA_2hr_ChIPseq_rep2)}{1.2,1.2,5.8,5.8,5.8,11,11,11,14.4,14.4,19,8.5,26.9,29.5,29.5,38,35.4,43.3,45.3,49.9}
\bartrk{tfactor}{MYC2_SRX6460103(MYC2_JA_2hr_ChIPseq_rep3)}{42.9,44.2,46.2,47.5,49.4,50.7,50.7,47.5,38.3,38.3,31,24.5,19.9,19.9,15.3,6.8,4.8,2.2,2.2,2.2}
\graytrk{tfactor}{MYC2_SRX6460104(MYC2_JA_2hr_ChIPseq_rep4)}{9,6,7,7,6,6,7,7,7,7,5,5,4,2,2,2,2,2,1,1}
\graytrk{tfactor}{MYC3_SRX6460105(MYC3_JA_2hr_ChIPseq_rep1)}{3,3,5,5,4,3,6,3,1,3,5,6,9,6,5,4,5,5,3,6}
\bartrk{tfactor}{MYC3_SRX6460106(MYC3_JA_2hr_ChIPseq_rep2)}{3,6.2,3,1,1,27.3,32.5,43,29.9,29.9,40.4,35.1,35.1,24,32.5,38.4,35.1,43,43,50.3}
\graytrk{tfactor}{MYC3_SRX6460107(MYC3_JA_2hr_ChIPseq_rep3)}{8,9,8,8,5,5,5,3,4,2,2,3,3,3,3,3,2,2,2,1}
\graytrk{tfactor}{PHE1_SRX5676333(silique.gfp.wt_rep1)}{2,3,2,2,1,2,4,4,4,4,4,4,6,8,8,8,9,5,4,4}
\bartrk{tfactor}{PHE1_SRX5676335(silique.gfp.wt_rep2)}{26.1,18.2,22.1,29.4,26.1,14.9,8.4,1.8,1.8,8.4,14.9,22.1,35.9,40.5,44.5,40.5,44.5,50.4,44.5,47.1}
\bartrk{tfactor}{PIF7_SRX5454258(PIF7::PIF7-MYC (D108)_ZT12_27C)}{26.5,1,1,1,1,1,13.5,19.5,19.5,38.5,33,27.5,27.5,27.5,27.5,38.5,38.5,38.5,38.5,51}
\bartrk{tfactor}{PIF7_SRX5454260(PIF7::PIF7-MYC (D108)_ZT8_27C)}{1.5,1.5,1.5,1.5,13.3,26.4,26.4,38.2,26.4,26.4,13.3,26.4,13.3,13.3,13.3,38.2,38.2,38.2,38.2,50.7}
\graytrk{tfactor}{PIF7_SRX5454262(PIF7::PIF7-MYC (D108)_ZT12_27C)}{6,8,9,8,8,6,6,6,6,7,2,4,1,1,1,1,3,5,5,5}
\graytrk{tfactor}{RBR1_SRX3531272(RBR1_ChIP_rep1)}{2,4,7,7,8,9,7,6,5,6,5,4,4,1,1,1,2,5,6,8}
\graytrk{tfactor}{RBR1_SRX3531273(RBR1_ChIP_rep2)}{1,2,5,5,9,8,8,8,7,7,8,6,6,6,6,4,4,5,5,5}
\graytrk{tfactor}{SE_ERX2858751(Arabidopsis Col-0 WT seedlings biorep1)}{1,1,2,1,1,1,2,2,5,5,5,7,7,7,7,8,8,9,8,9}
\bartrk{tfactor}{SE_ERX2858752(Arabidopsis Col-0 WT seedlings biorep1)}{6.9,2.4,14.2,6.9,6.9,6.9,14.2,14.2,27.3,27.3,27.3,40.4,40.4,40.4,38.4,44.3,44.3,50.2,44.3,50.2}
\bartrk{tfactor}{SE_ERX2858753(Arabidopsis Col-0 WT seedlings biorep1)}{50.5,29.5,29.5,29.5,50.5,50.5,50.5,50.5,26.2,5.2,5.2,22.3,1.3,1.3,1.3,1.3,44.6,44.6,44.6,44.6}
\bartrk{tfactor}{SHL_SRX3226098(SHL ChIPseq-1)}{1,1,50.1,50.1,50.1,50.1,50.1,50.1,50.1,50.1,50.1,50.1,1,1,1,1,1,1,1,1}
\bartrk{tfactor}{SHL_SRX3226099(SHL ChIPseq-2)}{1,1,1,1,50.5,50.5,1,1,1,1,1,1,1,1,1,1,1,1,1,1}
\graytrk{tfactor}{SMXL6_SRX7187013(s678 SMXL6HA_ChIPseq_Rep1)}{3,3,3,4,1,1,2,2,2,2,2,2,2,5,7,7,9,6,5,5}
\bartrk{tfactor}{SMXL6_SRX7187015(s678 SMXL6HA_ChIPseq_Rep2)}{9.8,16.3,16.3,13,16.3,19.6,19.6,7.8,7.8,7.8,16.3,1.9,9.8,13,22.9,32.7,41.9,41.9,41.9,50.5}
\graytrk{tfactor}{SOB3_SRX5001348(SOB3-GFP ChIP replicate 1)}{9,8,8,6,7,8,7,6,5,4,3,2,2,1,1,2,2,2,3,2}
\graytrk{tfactor}{SOB3_SRX5001349(SOB3-GFP ChIP replicate 2)}{7,8,8,7,7,8,9,9,7,4,4,4,1,1,1,1,1,1,1,1}
\bartrk{tfactor}{SOG1_SRX3866936(IP_SOG1-3xFLAG_20min)}{50.1,50.1,50.1,40.9,23.9,27.8,27.8,23.2,23.2,10.1,10.1,10.1,10.1,10.1,10.1,5.5,1.6,10.1,14,10.1}
\bartrk{tfactor}{SOG1_SRX3866937(IP_SOG1-3xFLAG_1h)}{38.6,38.6,38.6,19.6,32.7,32.7,26.8,7.1,7.1,1.9,13.7,1.9,7.1,7.1,19.6,32.7,44.6,50.5,44.6,38.6}
\bartrk{tfactor}{SPL7-SRX250135 (SRX250135: FLAG-SPL7 ChIP-seq)}{50.7,34.3,34.3,34.3,34.3,17.3,17.3,17.3,17.3,17.3,17.3,17.3,17.3,8.8,8.8,8.8,1.5,1.5,1.5,1.5}
\graytrk{tfactor}{SPT6L_SRX5169086(SPT6L-GFP IP rep1)}{7,3,1,1,2,3,7,7,7,7,5,4,2,4,3,5,7,9,9,9}
\bartrk{tfactor}{SPT6L_SRX5169087(SPT6L-GFP IP rep2)}{50.4,47.8,44.5,44.5,41.9,41.9,39.3,32.7,30.1,24.9,24.9,17.6,17.6,9.8,9.8,9.8,5.8,5.8,1.9,3.9}
\graytrk{tfactor}{STZ_SRX6460108(STZ_AIR_ChIPseq_rep1)}{1,2,5,5,7,6,6,7,9,9,8,5,6,7,9,9,9,9,6,5}
\graytrk{tfactor}{STZ_SRX6460109(STZ_AIR_ChIPseq_rep2)}{1,1,2,3,3,4,6,6,6,7,7,7,7,9,9,9,8,8,7,8}
\graytrk{tfactor}{STZ_SRX6460110(STZ_AIR_ChIPseq_rep3)}{4,4,4,2,2,2,2,2,2,1,1,1,1,4,2,4,4,6,8,9}
\graytrk{tfactor}{STZ_SRX6460111(STZ_JA_2hr_ChIPseq_rep1)}{1,1,1,2,1,1,1,1,2,2,3,2,2,4,5,5,6,8,9,9}
\bartrk{tfactor}{TCP4_SRX4168241(mTCP4_ChIP)}{19.9,44.1,50.7,44.1,44.1,44.1,44.1,38.9,44.1,32.3,13.3,7.4,7.4,1.5,7.4,7.4,1.5,1.5,7.4,13.3}
\bartrk{tfactor}{TFL1_ERX2826885(gTFL1-1xVenus_biorep1)}{35.3,40.6,40.6,40.6,50.4,50.4,45.8,40.6,28.1,1.9,6.5,6.5,6.5,11.7,17.6,11.7,11.7,11.7,22.9,22.9}
\bartrk{tfactor}{TFL1_ERX2826887(gTFL1-1xVenus_biorep3)}{1.6,7.5,20,20,20,32.4,32.4,32.4,32.4,32.4,32.4,32.4,32.4,32.4,26.5,44.8,44.8,44.8,44.8,50.7}
\end{scope}
\end{tikzpicture}
\end{document}
